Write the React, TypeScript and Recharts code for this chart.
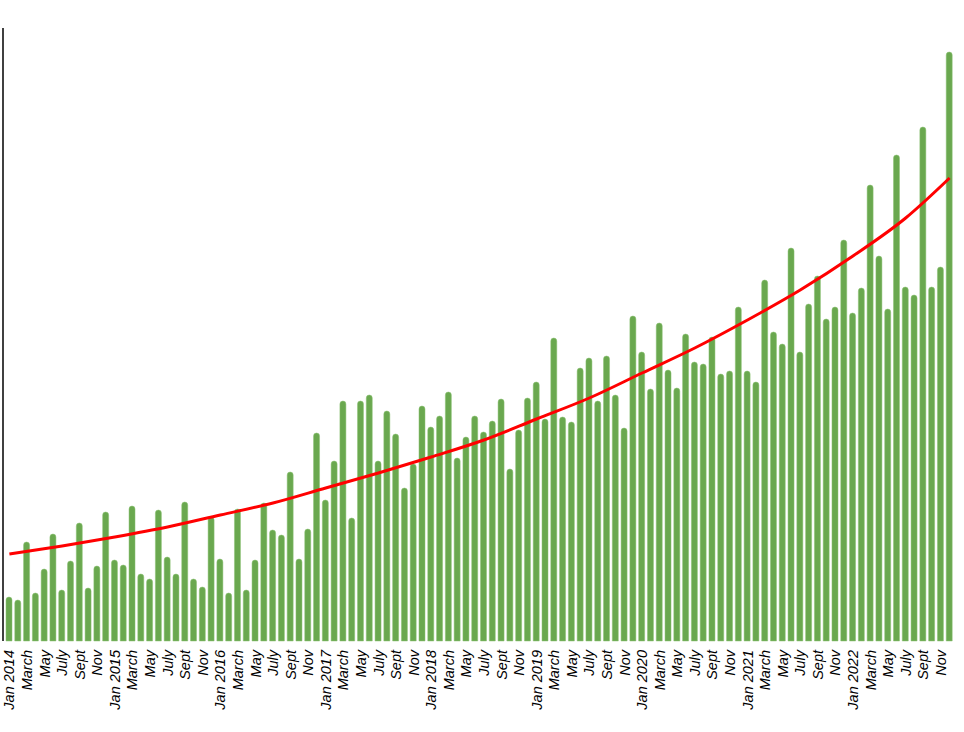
import { ComposedChart, Bar, Line, XAxis, YAxis } from "recharts";

const years = [2014, 2015, 2016, 2017, 2018, 2019, 2020, 2021, 2022];
const monthNames = ["Jan", "Feb", "March", "April", "May", "June", "July", "Aug", "Sept", "Oct", "Nov", "Dec"];

// monthly values, Jan 2014 .. Dec 2022
const monthlyValues = [
  44, 41, 99, 48, 72, 107, 51, 80, 118, 53, 75, 129,
  81, 76, 135, 67, 62, 131, 84, 67, 139, 62, 54, 124,
  82, 48, 132, 51, 81, 138, 111, 106, 169, 82, 112, 208,
  141, 180, 240, 123, 240, 246, 180, 230, 207, 153, 177, 235,
  214, 225, 249, 183, 204, 225, 209, 220, 242, 172, 211, 243,
  259, 222, 303, 224, 219, 273, 283, 240, 285, 246, 213, 325,
  289, 252, 318, 271, 253, 307, 279, 277, 304, 267, 270, 334,
  270, 259, 361, 309, 297, 393, 289, 337, 365, 322, 334, 401,
  328, 353, 456, 385, 332, 486, 354, 346, 514, 354, 374, 589,
];

// trend line read at Jan / July of each year, plus the last month
const trendIndex = [0, 6, 12, 18, 24, 30, 36, 42, 48, 54, 60, 66, 72, 78, 84, 90, 96, 102, 107];
const trendValues = [87, 95, 104, 114, 126, 138, 153, 168, 184, 201, 222, 243, 268, 293, 321, 351, 385, 423, 463];

const data = monthlyValues.map((value, i) => {
  const year = years[Math.floor(i / 12)];
  const m = i % 12;
  const t = trendIndex.indexOf(i);
  return {
    key: `${year}-${m + 1}`,
    label: m === 0 ? `Jan ${year}` : monthNames[m],
    value,
    trend: t >= 0 ? trendValues[t] : null,
  };
});

const labelByKey: Record<string, string> = {};
data.forEach((d) => (labelByKey[d.key] = d.label));

function MonthTick({ x, y, payload }: any) {
  const label = labelByKey[payload?.value];
  if (!label) return null;
  return (
    <g transform={`translate(${x},${y})`}>
      <text
        transform="rotate(-90)"
        textAnchor="end"
        dy="0.35em"
        fontSize={14.5}
        fontStyle="italic"
        fontFamily="Liberation Sans, Arial, sans-serif"
        fill="#000"
      >
        {label}
      </text>
    </g>
  );
}

export default function App() {
  return (
    <div style={{ position: "absolute", left: 0, top: 0, width: 964, height: 732, background: "#fff" }}>
      <ComposedChart
        width={964}
        height={732}
        data={data}
        margin={{ top: 28, right: 10, bottom: 0, left: 2 }}
        barCategoryGap={2}
      >
        <XAxis
          dataKey="key"
          interval={1}
          axisLine={false}
          tickLine={false}
          tickSize={0}
          tickMargin={9}
          height={91}
          padding={{ left: 2, right: 0 }}
          tick={<MonthTick />}
        />
        <YAxis
          width={1}
          domain={[0, 613]}
          tick={false}
          tickLine={false}
          axisLine={{ stroke: "#000", strokeWidth: 1.5 }}
        />
        <Bar
          dataKey="value"
          fill="#6aa84f"
          stroke="#8cc274"
          strokeWidth={0.5}
          barSize={6}
          radius={[3, 3, 0, 0]}
          isAnimationActive={false}
        />
        <Line
          dataKey="trend"
          type="monotone"
          connectNulls
          dot={false}
          stroke="#ff0000"
          strokeWidth={3}
          isAnimationActive={false}
        />
      </ComposedChart>
    </div>
  );
}
